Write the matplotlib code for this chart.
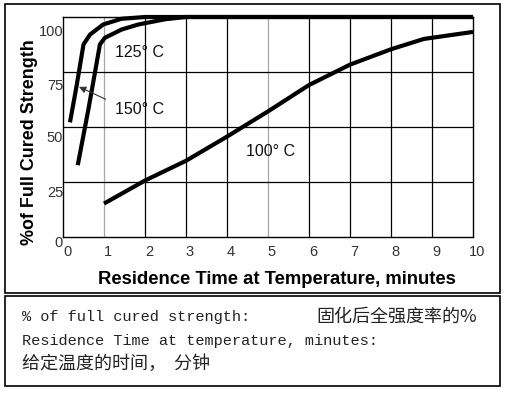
import matplotlib.pyplot as plt
import matplotlib.transforms as mtransforms
from matplotlib.patches import Rectangle

plt.rcParams['font.family'] = ['Liberation Sans', 'DejaVu Sans']

# curves (minutes, % of full cured strength)
t150 = [0.17, 0.33, 0.5, 0.66, 0.98, 1.43, 2.0, 10]
s150 = [52, 68.5, 87.5, 92, 96.6, 99.2, 100, 100]
t125 = [0.36, 0.62, 0.82, 0.9, 1.02, 1.43, 1.84, 2.5, 3.0, 10]
s125 = [32.5, 58, 79, 87.5, 90.5, 94.3, 96.6, 99, 100, 100]
t100 = [1, 2, 3, 4, 5, 6, 7, 8, 8.8, 10]
s100 = [15, 25.5, 34.5, 45.5, 57, 69, 78.3, 85.3, 90, 93.2]

xticks = list(range(0, 11))
yticks = [0, 25, 50, 75, 100]

fig = plt.figure(figsize=(5.08, 3.93), dpi=100)
ax = fig.add_axes([63/508, 1-236.5/393, 410/508, 219.5/393])

# grid
for x in range(1, 10):
    c = '#a6a6a6' if x in (1, 5) else 'black'
    ax.axvline(x, color=c, lw=0.9, zorder=1)
for y in (25, 50, 75):
    ax.axhline(y, color='black', lw=0.9, zorder=1)

for t, s in [(t150, s150), (t125, s125), (t100, s100)]:
    ax.plot(t, s, color='black', lw=3.0, solid_capstyle='butt', clip_on=False, zorder=3)

ax.set_xlim(0, 10)
ax.set_ylim(0, 100)
ax.set_xticks(xticks)
ax.set_yticks(yticks)
ax.tick_params(length=0, labelsize=10.5, labelcolor='#333333')
ax.tick_params(axis='x', pad=6)
ax.tick_params(axis='y', pad=0)
for sp in ax.spines.values():
    sp.set_linewidth(1.0)

# the y labels sit a bit below their grid lines in the original
for lab, dy in zip(ax.get_yticklabels(), [5, 10, 10, 13, 14]):
    lab.set_transform(lab.get_transform() + mtransforms.ScaledTranslation(0, -dy/100, fig.dpi_scale_trans))
for lab in ax.get_xticklabels():
    lab.set_transform(lab.get_transform() + mtransforms.ScaledTranslation(4/100, 0, fig.dpi_scale_trans))

ax.text(1.27, 83.6, '125° C', fontsize=11.5, va='center', color='#111111')
ax.text(1.27, 57.8, '150° C', fontsize=11.5, va='center', color='#111111')
ax.text(4.46, 38.7, '100° C', fontsize=11.5, va='center', color='#111111')
ax.annotate('', xy=(0.33, 68.7), xytext=(1.1, 62),
            arrowprops=dict(arrowstyle='-|>', color='#333333', lw=0.8, mutation_scale=10))

fig.text(30/508, 1-142/393, '%of Full Cured Strength', rotation=90, fontsize=12.9,
         fontweight='bold', ha='center', va='center')
fig.text(277/508, 1-280/393, 'Residence Time at Temperature, minutes', fontsize=13.3,
         fontweight='bold', ha='center', va='center')

# boxes round the chart and the note
fig.patches.append(Rectangle((5/508, 1-293/393), 495/508, 289/393, transform=fig.transFigure,
                             fill=False, lw=1.2, ec='black'))
fig.patches.append(Rectangle((5/508, 1-386/393), 495/508, 90/393, transform=fig.transFigure,
                             fill=False, lw=1.2, ec='black'))

mono = ['Liberation Mono', 'Noto Sans CJK SC']
cjk = ['Noto Sans CJK SC', 'DejaVu Sans']
fig.text(22/508, 1-316.7/393, '% of full cured strength:', family=mono, fontsize=11, va='center', color='#222222')
fig.text(316/508, 1-316.7/393, '固化后全强度率的%', family=cjk, fontsize=13, va='center', color='#222222')
fig.text(22/508, 1-340.7/393, 'Residence Time at temperature, minutes:', family=mono, fontsize=11,
         va='center', color='#222222')
fig.text(22/508, 1-364/393, '给定温度的时间，  分钟', family=cjk, fontsize=13, va='center', color='#222222')

fig.savefig('out.png', dpi=100)
